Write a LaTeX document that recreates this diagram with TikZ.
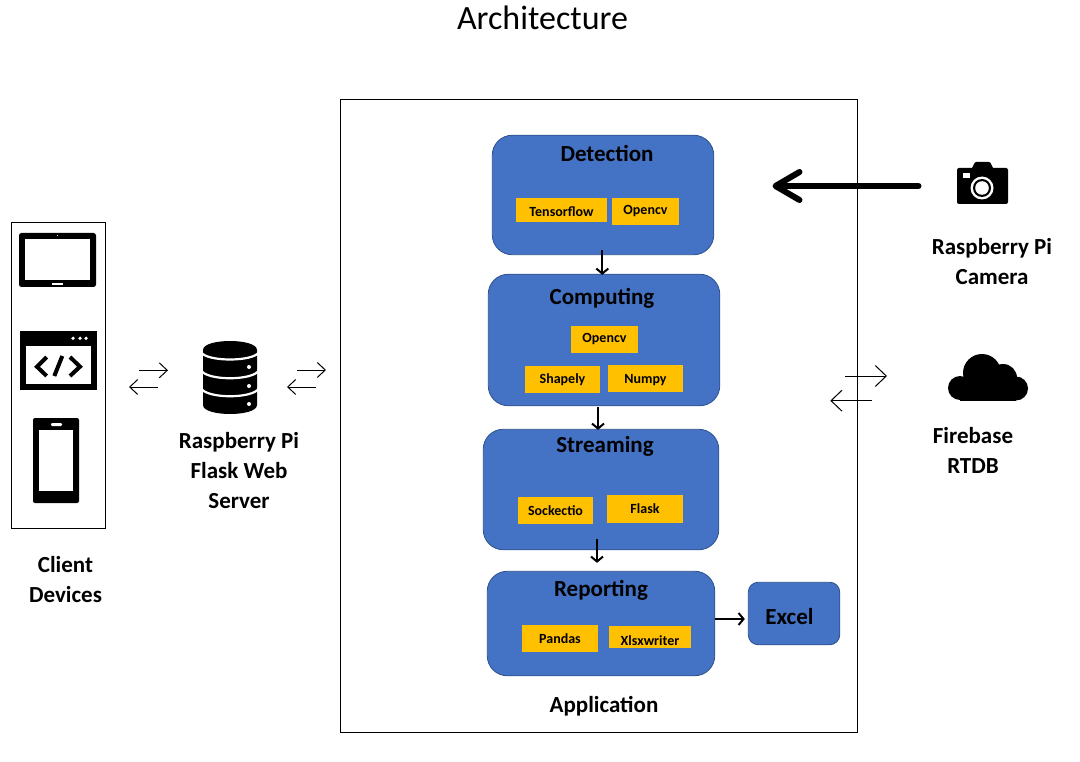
\documentclass[tikz,border=0pt]{standalone}
\usepackage{fontspec}
\setmainfont{Carlito}
\usetikzlibrary{arrows.meta}
\definecolor{bluefill}{HTML}{4472C4}
\definecolor{blueedge}{HTML}{2F528F}
\definecolor{amber}{HTML}{FFC000}
\tikzset{
  panel/.style={draw=black,line width=1pt,fill=white,inner sep=0pt},
  stage/.style={draw=blueedge,line width=0.8pt,fill=bluefill,inner sep=0pt,rounded corners=20pt},
  tool/.style={fill=amber,inner sep=0pt,font=\fontsize{14}{16}\selectfont\bfseries},
  stagetitle/.style={inner sep=0pt,font=\fontsize{23}{26}\selectfont\bfseries},
  caption/.style={inner sep=0pt,align=center,font=\fontsize{23}{30}\selectfont\bfseries},
  flowarrow/.style={draw=black,line width=2pt,-{Straight Barb[length=5pt,width=12pt,line width=2pt]}},
  thinarrow/.style={draw=black,line width=1pt,-{Straight Barb[length=8pt,width=15pt,line width=1pt]}},
  widearrow/.style={draw=black,line width=1pt,-{Straight Barb[length=11pt,width=21pt,line width=1pt]}},
  bigarrow/.style={draw=black,line width=6pt,line cap=round,-{Straight Barb[length=24pt,width=28pt,line width=6pt,round]}},
  icon/.style={fill=black,draw=none},
  hole/.style={fill=white,draw=none},
}
\begin{document}
\begin{tikzpicture}[x=1pt,y=-1pt]
\useasboundingbox (0,0) rectangle (1080,762);
\fill[white] (0,0) rectangle (1080,762);

\node[inner sep=0pt,font=\fontsize{34}{40}\selectfont] (title) at (542.5,17.5) {Architecture};

% Panels
\node[panel,minimum width=517pt,minimum height=633pt] (app) at (599,416) {};
\node[panel,minimum width=94pt,minimum height=306pt] (client) at (58.5,375.5) {};

% Stages
\node[stage,minimum width=221.5pt,minimum height=119.5pt] (det) at (603,195) {};
\node[stage,minimum width=231.5pt,minimum height=131.5pt] (comp) at (604,340) {};
\node[stage,minimum width=235.5pt,minimum height=120.5pt] (stream) at (601,489.5) {};
\node[stage,minimum width=227.5pt,minimum height=104.5pt] (report) at (601,623.5) {};
\node[stage,rounded corners=10pt,minimum width=91.5pt,minimum height=62.5pt] (excel) at (794,613.5) {};

\node[stagetitle] (tdet) at (607,153.5) {Detection};
\node[stagetitle] (tcomp) at (602,298.5) {Computing};
\node[stagetitle] (tstream) at (605,446.5) {Streaming};
\node[stagetitle] (treport) at (601,590.5) {Reporting};
\node[stagetitle] (texcel) at (789.5,617) {Excel};

% Tools
\node[tool,text height=14pt,text depth=0pt,minimum width=91pt,minimum height=24pt] (tf) at (561.5,210) {Tensorflow};
\node[tool,minimum width=67pt,minimum height=27pt] (cv) at (645.5,211.5) {Opencv};
\node[tool,minimum width=67pt,minimum height=27pt] (cvb) at (604.5,339.5) {Opencv};
\node[tool,minimum width=75pt,minimum height=27pt] (shp) at (562.5,379.5) {Shapely};
\node[tool,text height=12pt,text depth=3pt,minimum width=75pt,minimum height=27pt] (np) at (645.5,378.5) {Numpy};
\node[tool,minimum width=75pt,minimum height=27pt] (sock) at (555.5,510.5) {Sockectio};
\node[tool,minimum width=76pt,minimum height=28pt] (flask) at (645,509) {Flask};
\node[tool,minimum width=76pt,minimum height=27pt] (pandas) at (560,638.5) {Pandas};
\fill[amber] (609,626) rectangle (691,648);
\begin{scope}
\clip (609,626) rectangle (691,648);
\node[inner sep=0pt,font=\fontsize{14}{16}\selectfont\bfseries] (xlsx) at (650,640.5) {Xlsxwriter};
\end{scope}

% Captions
\node[caption] (capclient) at (65.5,579.5) {Client\\Devices};
\node[caption] (capserver) at (239,470.5) {Raspberry Pi\\Flask Web\\Server};
\node[caption] (capcam) at (992,262) {Raspberry Pi\\Camera};
\node[caption] (capfb) at (973,450) {Firebase\\RTDB};
\node[stagetitle] (capapp) at (604,706) {Application};

% Flow arrows
\draw[flowarrow] ([xshift=-0.7pt,yshift=5pt]det.south) -- ([xshift=-1.7pt,yshift=-1pt]comp.north);
\draw[flowarrow] ([xshift=-6pt,yshift=-1pt]comp.south) -- ([xshift=-3pt,yshift=-1pt]stream.north);
\draw[flowarrow] ([xshift=-4pt,yshift=11pt]stream.south) -- ([xshift=-4pt,yshift=8pt]report.north);
\draw[flowarrow] ([yshift=4.5pt]report.east) -- ([xshift=-3pt,yshift=-5.5pt]excel.west);

% Thick arrow
\coordinate (camtail) at (918.5,186);
\coordinate (camhead) at (772.5,186);
\draw[bigarrow] (camtail) -- (camhead);

% Thin arrow pairs
\coordinate (p1a) at (139,370.3); \coordinate (p1b) at (168,370.3);
\coordinate (p2a) at (157.7,387); \coordinate (p2b) at (129,387);
\coordinate (p3a) at (297,370); \coordinate (p3b) at (326,370);
\coordinate (p4a) at (315.7,387); \coordinate (p4b) at (287,387);
\coordinate (p5a) at (845,376); \coordinate (p5b) at (887,376);
\coordinate (p6a) at (871.7,400.7); \coordinate (p6b) at (830.3,400.7);
\draw[thinarrow] (p1a) -- (p1b);
\draw[thinarrow] (p2a) -- (p2b);
\draw[thinarrow] (p3a) -- (p3b);
\draw[thinarrow] (p4a) -- (p4b);
\draw[widearrow] (p5a) -- (p5b);
\draw[widearrow] (p6a) -- (p6b);

% Tablet icon
\fill[icon,rounded corners=2.5pt] (19,233) rectangle (96,287);
\fill[hole] (25,239) rectangle (90,280);
\fill[hole] (52,283) rectangle (63,285);
\fill[hole] (57.3,235.5) circle (0.5);

% Code window icon
\fill[icon] (20,331) rectangle (97,390);
\fill[hole] (26,346) rectangle (91,384);
\fill[hole] (73,338.3) circle (1.8) (80,338.3) circle (1.8) (86,338.3) circle (1.8);
\draw[black,line width=4pt] (46.7,357) -- (37,366.7) -- (46.7,376);
\draw[black,line width=4pt] (62.3,356) -- (54.3,376);
\draw[black,line width=4pt] (70,357) -- (80,366.7) -- (70,376);

% Phone icon
\fill[icon,rounded corners=2pt] (33,418) rectangle (79,503);
\fill[hole] (39,430) rectangle (73,491);
\fill[hole,rounded corners=1.2pt] (51,423) rectangle (62,426);

% Database icon
\fill[icon] (203,350) -- (203,405) .. controls (203,417) and (257,417) .. (257,405) -- (257,350) .. controls (257,338) and (203,338) .. (203,350) -- cycle;
\draw[white,line width=2.2pt] (201,352) .. controls (206,362) and (254,362) .. (259,352);
\draw[white,line width=2.2pt] (201,370) .. controls (206,381) and (254,381) .. (259,370);
\draw[white,line width=2.2pt] (201,388) .. controls (206,399) and (254,399) .. (259,388);
\fill[hole] (249,367) circle (2) (249,386) circle (2) (249,404) circle (2);

% Camera icon
\fill[icon,rounded corners=2pt] (957,168) rectangle (1008,204);
\fill[icon,rounded corners=1pt] (971,170) -- (975,162) -- (990,162) -- (994,170) -- cycle;
\fill[hole] (963,173.5) rectangle (970,178);
\fill[hole] (982,188) circle (11.5);
\fill[icon] (982,188) circle (9);
\fill[hole] (982,188) circle (6.8);

% Cloud icon
\fill[icon] (982,373) circle (19) (1003,378) circle (14) (1016,388.5) circle (12) (960,388) circle (12);
\fill[icon] (960,380) rectangle (1016,400.5);
\end{tikzpicture}
\end{document}
